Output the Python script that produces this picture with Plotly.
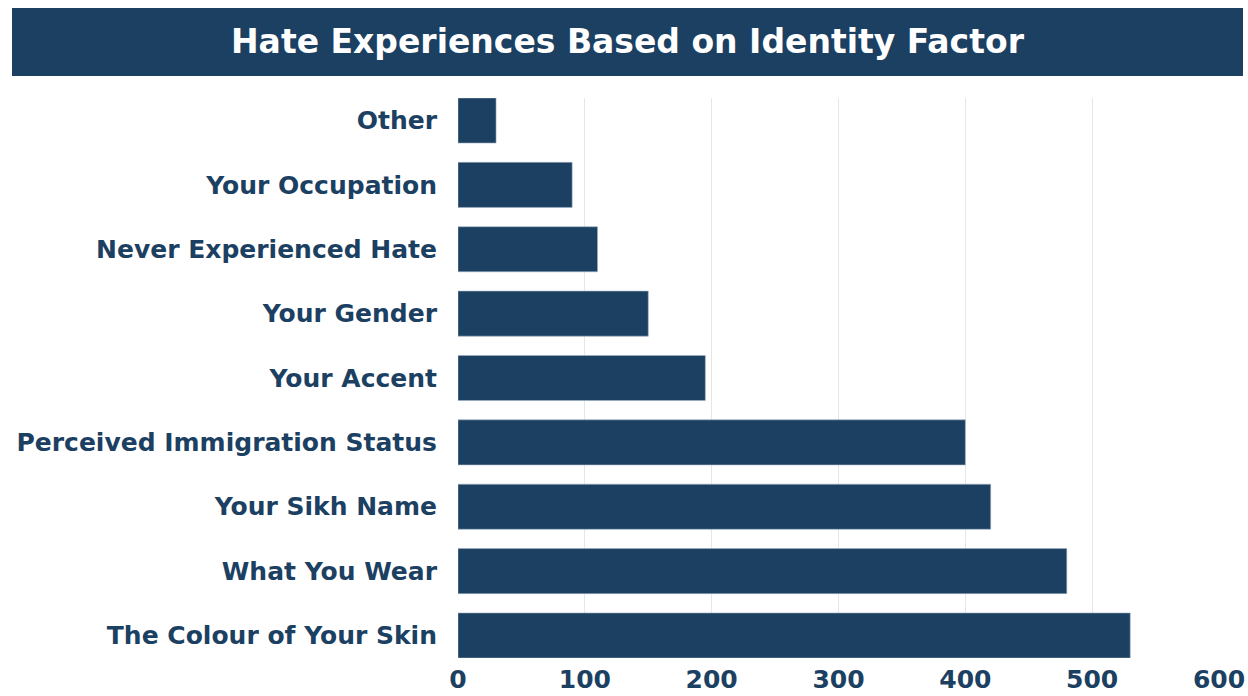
import plotly.graph_objects as go

# categories listed bottom to top
factors = ["The Colour of Your Skin", "What You Wear", "Your Sikh Name",
           "Perceived Immigration Status", "Your Accent", "Your Gender",
           "Never Experienced Hate", "Your Occupation", "Other"]
counts = [530, 480, 420, 400, 195, 150, 110, 90, 30]
x_ticks = [0, 100, 200, 300, 400, 500, 600]

navy = "#1c4062"
face = "DejaVu Sans"
W, H = 1248, 696
ml, mr, mt, mb = 458, 29, 98, 38
pw, ph = W - ml - mr, H - mt - mb


def px_x(p):
    return (p - ml) / pw


def px_y(p):
    return (H - mb - p) / ph


fig = go.Figure(go.Bar(
    x=counts, y=factors, orientation="h",
    marker=dict(color=navy, line=dict(color="#9fb0c2", width=0.6)),
    hoverinfo="x+y",
))

# title banner
fig.add_shape(type="rect", xref="paper", yref="paper",
              x0=px_x(12), x1=px_x(1243), y0=px_y(76), y1=px_y(8),
              fillcolor=navy, line=dict(width=0), layer="below")
fig.add_annotation(text="Hate Experiences Based on Identity Factor",
                   xref="paper", yref="paper", x=px_x(628), y=px_y(42),
                   xanchor="center", yanchor="middle", showarrow=False,
                   font=dict(family=face, size=33, color="white", weight=700))

fig.update_layout(
    width=W, height=H,
    margin=dict(l=ml, r=mr, t=mt, b=mb),
    plot_bgcolor="white", paper_bgcolor="white",
    bargap=0.3, showlegend=False,
    font=dict(family=face, color=navy),
)
fig.update_xaxes(range=[0, 600], tickvals=x_ticks, showgrid=True,
                 gridcolor="#e4e6ea", gridwidth=1, zeroline=False,
                 showline=False, ticks="", ticklabelstandoff=4,
                 automargin=False,
                 tickfont=dict(size=25, color=navy, weight=700))
fig.update_yaxes(range=[-0.35, 8.35], showgrid=False, zeroline=False,
                 showline=False, ticks="", ticklabelstandoff=20,
                 automargin=False,
                 tickfont=dict(size=25, color=navy, weight=700))

fig.write_html("out.html", config={"displayModeBar": False},
               post_script="document.body.style.margin='0';"
                           "document.documentElement.style.overflow='hidden';")
